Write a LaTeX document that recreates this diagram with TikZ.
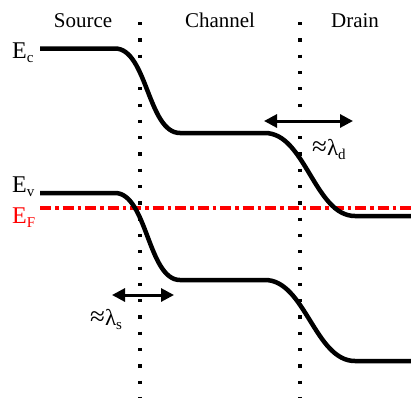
\documentclass[tikz,border=0pt]{standalone}
\usepackage{fontspec}
\setmainfont{Liberation Serif}
\usetikzlibrary{arrows.meta}
\newcommand{\sbs}[1]{\raisebox{-0.2em}{\fontsize{15}{15}\selectfont #1}}
\newcommand{\apx}{{\fontsize{27}{27}\selectfont ≈}}
\begin{document}
\begin{tikzpicture}[x=1pt,y=-1pt,
  band/.style={line width=4.5pt, line join=round},
  dotline/.style={line width=3.2pt, dash pattern=on 3.2pt off 13.1pt},
  fermi/.style={red, line width=3.5pt, dash pattern=on 11pt off 4pt on 3.5pt off 4pt},
  span/.style={line width=3pt, {Triangle[length=13pt,width=13pt]}-{Triangle[length=13pt,width=13pt]}},
  title/.style={font=\fontsize{21}{24}\selectfont, anchor=base, inner sep=0pt},
  elabel/.style={font=\fontsize{24}{26}\selectfont, anchor=base west, inner sep=0pt},
  lam/.style={font=\fontsize{23}{24}\selectfont, anchor=base west, inner sep=0pt}
]
\useasboundingbox (0,0) rectangle (411,397);
% region titles
\node[title] (src) at (83,27) {Source};
\node[title] (chn) at (220,27) {Channel};
\node[title] (drn) at (355,27) {Drain};
% dotted junction lines
\coordinate (j1t) at (140,22);
\coordinate (j1b) at (140,397);
\coordinate (j2t) at (300,22);
\coordinate (j2b) at (300,397);
\draw[dotline] (j1t) -- (j1b);
\draw[dotline] (j2t) -- (j2b);
% Fermi level
\coordinate (ef1) at (40,208);
\coordinate (ef2) at (411,208);
\draw[fermi] (ef1) -- (ef2);
% conduction band
\draw[band] (40,48.5) -- (115,48.5) .. controls (147,48.5) and (148,133) .. (180,133)
  -- (265,133) .. controls (305,133) and (315,216) .. (355,216) -- (411,216);
% valence band
\draw[band] (40,193) -- (115,193) .. controls (147,193) and (148,280) .. (180,280)
  -- (265,280) .. controls (305,280) and (315,361) .. (355,361) -- (411,361);
% labels
\node[elabel] (ec) at (12,58) {E\sbs{c}};
\node[elabel] (ev) at (12,192) {E\sbs{v}};
\node[elabel, text=red] (ef) at (12,223) {E\sbs{F}};
% screening lengths
\coordinate (dL) at (264,121);
\coordinate (dR) at (353,121);
\draw[span] (dL) -- (dR);
\node[lam] (ld) at (312,155) {\apx λ\sbs{d}};
\coordinate (sL) at (112,295);
\coordinate (sR) at (174,295);
\draw[span] (sL) -- (sR);
\node[lam] (ls) at (90,325) {\apx λ\sbs{s}};
\end{tikzpicture}
\end{document}
